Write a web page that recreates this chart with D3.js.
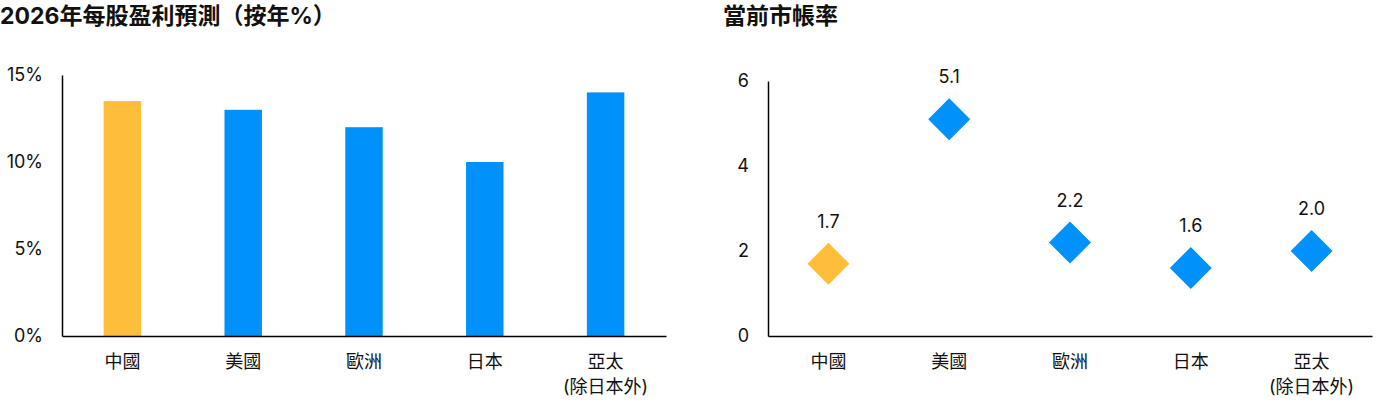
<!DOCTYPE html>
<html>
<head>
<meta charset="utf-8">
<script src="https://cdn.jsdelivr.net/npm/d3@7"></script>
<style>
  body { margin: 0; background: #fff; }
  text { font-family: Inter, "Noto Sans CJK TC", sans-serif; fill: #111; }
</style>
</head>
<body>
<div id="chart"></div>
<script>
// data
var categories = ["中國", "美國", "歐洲", "日本", "亞太|(除日本外)"];
var epsGrowth = [13.5, 13.0, 12.0, 10.0, 14.0];   // 2026 EPS growth, % yoy
var pbRatio = [1.7, 5.1, 2.2, 1.6, 2.0];          // current P/B
var epsTicks = [0, 5, 10, 15];
var pbTicks = [0, 2, 4, 6];
var highlight = "中國";

var yellow = "#FFBE3A", blue = "#0091FA";

var svg = d3.select("#chart")
    .append("svg")
    .attr("width", 1378)
    .attr("height", 406);

// note: "top" is taken by window.top, so plotTop / plotBottom
var plotTop = 75, plotBottom = 336;

function categoryAxis(g, x) {
    g.attr("transform", "translate(0," + plotBottom + ")")
        .call(d3.axisBottom(x).tickSize(0).tickSizeOuter(0).tickPadding(19))
        .call(function(a) { a.select(".domain").attr("stroke", "#000").attr("stroke-width", 1.5); });
    g.selectAll(".tick text")
        .attr("fill", "#111")
        .style("font-size", "18px")
        .each(function(d) {
            var lines = d.split("|");
            var t = d3.select(this).text(null);
            lines.forEach(function(l, i) {
                t.append("tspan")
                    .attr("x", 0)
                    .attr("dy", i == 0 ? "0.71em" : "1.4em")
                    .text(l);
            });
        })
        .attr("dy", null);
}

function valueAxis(g, y, left, fmt, ticks) {
    g.attr("transform", "translate(" + left + ",0)")
        .call(d3.axisLeft(y).tickValues(ticks).tickFormat(fmt).tickSize(0).tickSizeOuter(0).tickPadding(19))
        .call(function(a) { a.select(".domain").attr("stroke", "#000").attr("stroke-width", 1.5); });
    g.selectAll(".tick text")
        .attr("fill", "#111")
        .style("font-size", "18px");
}

// ---- left: EPS growth bars ----
var x1 = d3.scaleBand()
    .domain(categories)
    .range([62, 666])
    .paddingInner(0.69)
    .paddingOuter(0.345);

var y1 = d3.scaleLinear()
    .domain([0, 15])
    .range([plotBottom, plotTop]);

svg.append("text")
    .attr("x", 0)
    .attr("y", 24)
    .style("font-size", "23px")
    .style("font-weight", "bold")
    .text("2026年每股盈利預測（按年%）");

svg.selectAll(".bar")
    .data(categories)
    .enter()
    .append("rect")
    .attr("class", "bar")
    .attr("x", function(d) { return x1(d); })
    .attr("width", x1.bandwidth())
    .attr("y", function(d, i) { return y1(epsGrowth[i]); })
    .attr("height", function(d, i) { return plotBottom - y1(epsGrowth[i]); })
    .attr("fill", function(d) { return d == highlight ? yellow : blue; });

svg.append("g").call(valueAxis, y1, 62, function(d) { return d + "%"; }, epsTicks);
svg.append("g").call(categoryAxis, x1);

// ---- right: P/B diamonds ----
var x2 = d3.scaleBand()
    .domain(categories)
    .range([768, 1372])
    .paddingInner(0.69)
    .paddingOuter(0.345);

var y2 = d3.scaleLinear()
    .domain([0, 6])
    .range([plotBottom, 81]);

svg.append("text")
    .attr("x", 723)
    .attr("y", 24)
    .style("font-size", "23px")
    .style("font-weight", "bold")
    .text("當前市帳率");

var diamond = d3.symbol().type(d3.symbolSquare).size(880);

svg.selectAll(".pt")
    .data(categories)
    .enter()
    .append("path")
    .attr("class", "pt")
    .attr("d", diamond)
    .attr("transform", function(d, i) {
        return "translate(" + (x2(d) + x2.bandwidth() / 2) + "," + y2(pbRatio[i]) + ") rotate(45)";
    })
    .attr("fill", function(d) { return d == highlight ? yellow : blue; });

svg.selectAll(".lbl")
    .data(categories)
    .enter()
    .append("text")
    .attr("class", "lbl")
    .attr("x", function(d) { return x2(d) + x2.bandwidth() / 2; })
    .attr("y", function(d, i) { return y2(pbRatio[i]) - 36; })
    .attr("text-anchor", "middle")
    .style("font-size", "18px")
    .text(function(d, i) { return pbRatio[i].toFixed(1); });

svg.append("g").call(valueAxis, y2, 768, d3.format("d"), pbTicks);
svg.append("g").call(categoryAxis, x2);
</script>
</body>
</html>
